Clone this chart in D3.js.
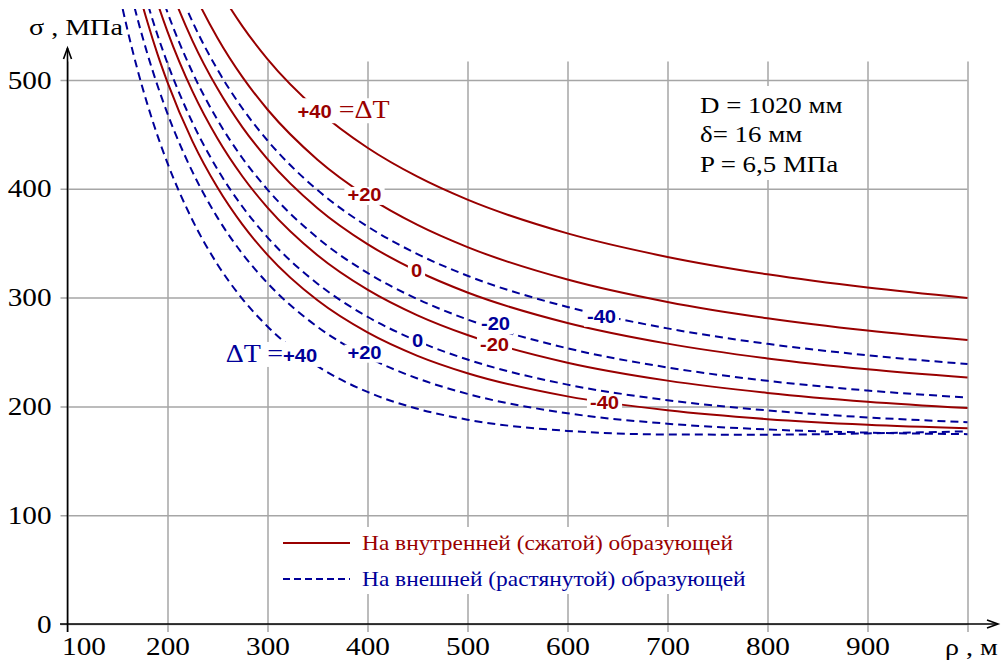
<!DOCTYPE html>
<html>
<head>
<meta charset="utf-8">
<script src="https://cdn.jsdelivr.net/npm/d3@7"></script>
<style>
  body { margin: 0; background: #fff; }
  svg { display: block; }
</style>
</head>
<body>
<svg></svg>
<script>
const width = 1002, height = 669;

// radius of the bend, m
const rho = [140, 150, 160, 170, 180, 190, 200, 225, 250, 275, 300, 350, 400, 450, 500, 600, 700, 800, 900, 1000];

// stress on the inner (compressed) side, MPa, for dT = +40, +20, 0, -20, -40
const inner_p40 = [null, null, null, null, null, null, 686.7, 630.4, 585.6, 549.3, 519.2, 472.4, 437.7, 411.1, 390.0, 359.0, 337.4, 321.4, 309.2, 299.7];
const inner_p20 = [null, null, null, null, 695.3, 665.5, 638.9, 583.0, 538.6, 502.6, 472.9, 426.8, 392.8, 366.8, 346.4, 316.6, 296.0, 281.0, 269.7, 261.0];
const inner_0 = [null, null, null, 680.7, 647.6, 618.0, 591.6, 536.0, 492.1, 456.5, 427.3, 382.2, 349.2, 324.2, 304.7, 276.7, 257.7, 244.1, 234.1, 226.5];
const inner_m20 = [null, null, 670.3, 633.1, 600.2, 570.8, 544.5, 489.5, 446.2, 411.3, 382.7, 338.9, 307.3, 283.7, 265.6, 240.2, 223.7, 212.4, 204.3, 198.5];
const inner_m40 = [null, 664.8, 622.6, 585.6, 553.0, 523.8, 497.9, 443.6, 401.1, 367.0, 339.3, 297.5, 268.0, 246.5, 230.5, 209.2, 196.4, 188.3, 183.2, 179.9];

// stress on the outer (stretched) side, MPa
const outer_p40 = [635.6, 587.6, 546.0, 509.5, 477.4, 448.9, 423.6, 371.1, 330.5, 298.7, 273.5, 237.0, 213.3, 197.8, 187.8, 177.5, 174.2, 174.0, 175.2, 177.1];
const outer_p20 = [683.3, 635.1, 593.1, 556.3, 523.8, 494.9, 469.1, 415.5, 373.5, 340.2, 313.3, 273.1, 245.3, 225.7, 211.5, 193.7, 184.1, 178.8, 175.9, 174.5];
const outer_0 = [731.2, 682.7, 640.5, 603.4, 570.7, 541.4, 515.3, 460.8, 417.9, 383.5, 355.4, 312.8, 282.4, 260.0, 243.1, 220.0, 205.7, 196.3, 189.9, 185.5];
const outer_m20 = [null, 730.6, 688.2, 650.9, 617.9, 588.4, 562.1, 506.9, 463.3, 428.1, 399.3, 354.9, 322.7, 298.6, 279.9, 253.4, 235.8, 223.5, 214.6, 208.1];
const outer_m40 = [null, 778.8, 736.2, 698.7, 665.5, 635.9, 609.4, 553.6, 509.5, 473.8, 444.4, 398.8, 365.4, 340.0, 320.1, 291.4, 271.7, 257.5, 247.0, 238.9];

const x_ticks = [100, 200, 300, 400, 500, 600, 700, 800, 900, 1000];
const y_ticks = [0, 100, 200, 300, 400, 500];

// curve labels: [text parts, rho, sigma]
const inner_labels = [
  [["+40", " =ΔT"], 376, 470],
  [["+20"], 397, 394],
  [["0"], 449, 324],
  [["-20"], 527, 256],
  [["-40"], 637, 203]
];
const outer_labels = [
  [["ΔT =", "+40"], 304, 246],
  [["+20"], 397, 249],
  [["0"], 450, 260],
  [["-20"], 528, 275],
  [["-40"], 634, 282]
];

const legend_items = ["На внутренней (сжатой) образующей", "На внешней (растянутой) образующей"];
const params = ["D = 1020 мм", "δ= 16 мм", "P = 6,5 МПа"];

const red = "#990000", blue = "#000099", grid_color = "#a6a6a6";
const serif = "'Liberation Serif', 'Times New Roman', serif";
const sans = "'Liberation Sans', Arial, sans-serif";
const wide = 1.17; // the original text is drawn a bit wider than Times

// widen a text element around its own x
function stretch(sel, k) {
  sel.each(function () {
    const t = d3.select(this);
    const x = +t.attr("x") || 0;
    t.attr("transform", `translate(${x},0) scale(${k},1) translate(${-x},0)`);
  });
}

const svg = d3.select("svg").attr("width", width).attr("height", height);

const x_scale = d3.scaleLinear().domain([100, 1000]).range([67.5, 967.5]);
const y_scale = d3.scaleLinear().domain([0, 500]).range([624, 80]);
const grid_top = y_scale(517);

// grid + tick labels
const y_axis = svg.append("g")
  .attr("transform", `translate(${x_scale(100)},0)`)
  .call(d3.axisLeft(y_scale).tickValues(y_ticks)
    .tickSize(-(x_scale(1000) - x_scale(100))).tickPadding(16));
y_axis.select(".domain").remove();
y_axis.selectAll(".tick line").attr("x1", -7).attr("stroke", grid_color).attr("stroke-width", 1.5);
y_axis.selectAll(".tick text").attr("fill", "#000")
  .style("font-family", serif).style("font-size", "25px")
  .call(stretch, wide);

const x_axis = svg.append("g")
  .attr("transform", `translate(0,${y_scale(0)})`)
  .call(d3.axisBottom(x_scale).tickValues(x_ticks)
    .tickSize(-(y_scale(0) - grid_top)).tickPadding(13)
    .tickFormat(d => (d === 1000 ? "" : d)));
x_axis.select(".domain").remove();
x_axis.selectAll(".tick line").attr("y1", 8).attr("stroke", grid_color).attr("stroke-width", 1.5);
x_axis.selectAll(".tick text").filter(d => d === 100).attr("x", 16);
x_axis.selectAll(".tick text").attr("fill", "#000")
  .style("font-family", serif).style("font-size", "25px")
  .call(stretch, wide);

// white boxes that cut the grid
svg.append("rect").attr("x", 270).attr("y", 527).attr("width", 494).attr("height", 67).attr("fill", "#fff");
svg.append("rect").attr("x", 688).attr("y", 86).attr("width", 168).attr("height", 94).attr("fill", "#fff");

// axes with arrows
const axis_g = svg.append("g").attr("stroke", "#000").attr("stroke-width", 1.6).attr("fill", "none");
axis_g.append("line").attr("x1", 60).attr("x2", 997).attr("y1", y_scale(0)).attr("y2", y_scale(0));
axis_g.append("line").attr("x1", x_scale(100)).attr("x2", x_scale(100)).attr("y1", 632).attr("y2", 48);
axis_g.append("path").attr("d", `M${x_scale(100) - 4},59 L${x_scale(100)},48 L${x_scale(100) + 4},59`);
axis_g.append("path").attr("d", `M987,${y_scale(0) - 4} L998,${y_scale(0)} L987,${y_scale(0) + 4}`);

svg.append("text").attr("x", 29).attr("y", 35)
  .style("font-family", serif).style("font-size", "24px").text("σ , МПа")
  .call(stretch, wide);
svg.append("text").attr("x", 945).attr("y", 655)
  .style("font-family", serif).style("font-size", "24px").text("ρ , м")
  .call(stretch, wide);

// curves
svg.append("clipPath").attr("id", "plot_clip")
  .append("rect").attr("x", x_scale(100)).attr("y", 9)
  .attr("width", x_scale(1000) - x_scale(100) + 2).attr("height", y_scale(0) - 9);

const line_generator = d3.line()
  .defined(d => d.v != null)
  .x(d => x_scale(d.r))
  .y(d => y_scale(d.v))
  .curve(d3.curveMonotoneX);

const to_points = vals => rho.map((r, i) => ({ r: r, v: vals[i] })).filter(d => d.v != null);

const outer_series = [outer_p40, outer_p20, outer_0, outer_m20, outer_m40];
const inner_series = [inner_p40, inner_p20, inner_0, inner_m20, inner_m40];

const curves = svg.append("g").attr("clip-path", "url(#plot_clip)").attr("fill", "none");
curves.selectAll(".outer").data(outer_series).join("path")
  .attr("class", "outer")
  .attr("stroke", blue).attr("stroke-width", 2)
  .attr("stroke-dasharray", "8,5")
  .attr("d", d => line_generator(to_points(d)));
curves.selectAll(".inner").data(inner_series).join("path")
  .attr("class", "inner")
  .attr("stroke", red).attr("stroke-width", 2)
  .attr("d", d => line_generator(to_points(d)));

// labels on curves, white background breaks lines
function add_label(parts, r, s, color) {
  const g = svg.append("g");
  const cx = x_scale(r);
  const t = g.append("text")
    .attr("x", cx).attr("y", y_scale(s))
    .attr("text-anchor", "middle").attr("dy", "0.35em")
    .attr("fill", color);
  parts.forEach(p => {
    const is_num = /[0-9]/.test(p);
    t.append("tspan").text(p)
      .style("font-family", is_num ? sans : serif)
      .style("font-weight", is_num ? "bold" : "normal")
      .style("font-size", is_num ? "18px" : "25px");
  });
  const bb = t.node().getBBox();
  t.call(stretch, 1.12);
  g.insert("rect", "text")
    .attr("x", cx - (cx - bb.x) * 1.12 - 3).attr("y", bb.y + 2)
    .attr("width", bb.width * 1.12 + 6).attr("height", bb.height - 2)
    .attr("fill", "#fff");
}
inner_labels.forEach(d => add_label(d[0], d[1], d[2], red));
outer_labels.forEach(d => add_label(d[0], d[1], d[2], blue));

// legend
const legend = svg.append("g");
legend.selectAll("line").data(legend_items).join("line")
  .attr("x1", 283).attr("x2", 350)
  .attr("y1", (d, i) => 543 + i * 36).attr("y2", (d, i) => 543 + i * 36)
  .attr("stroke", (d, i) => (i === 0 ? red : blue)).attr("stroke-width", 2)
  .attr("stroke-dasharray", (d, i) => (i === 0 ? null : "7,4"));
legend.selectAll("text").data(legend_items).join("text")
  .attr("x", 362).attr("y", (d, i) => 550 + i * 36)
  .attr("fill", (d, i) => (i === 0 ? red : blue))
  .style("font-family", serif).style("font-size", "20px")
  .text(d => d)
  .call(stretch, wide);

// parameters
svg.append("g").selectAll("text").data(params).join("text")
  .attr("x", 700).attr("y", (d, i) => 113 + i * 29.5)
  .style("font-family", serif).style("font-size", "23px")
  .text(d => d)
  .call(stretch, wide);
</script>
</body>
</html>
